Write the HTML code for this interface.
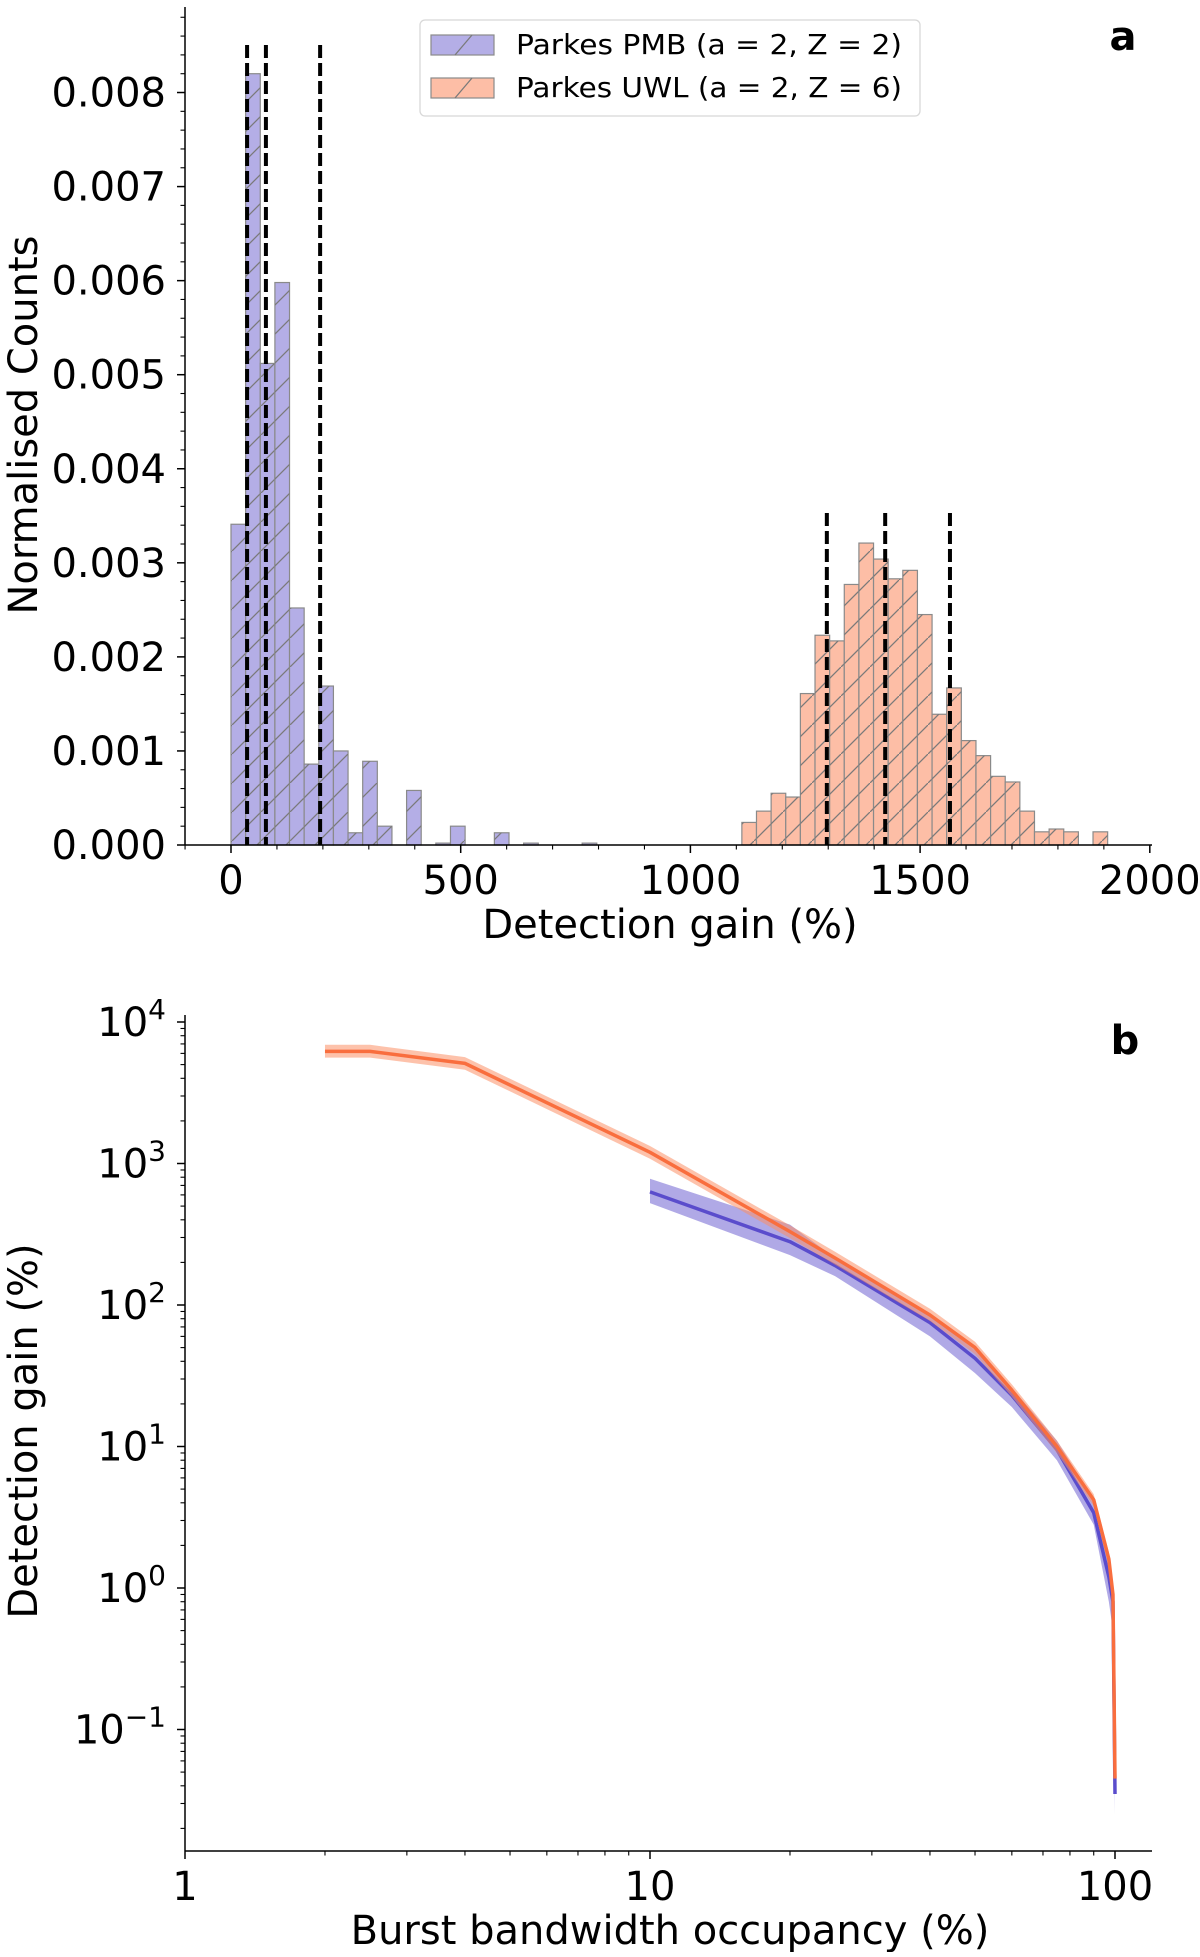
<!DOCTYPE html>
<html><head><meta charset="utf-8"><style>
html,body{margin:0;padding:0;background:#fff;}
svg text{font-family:"DejaVu Sans","Liberation Sans",sans-serif;fill:#000;}
</style></head><body>
<svg id="fig" width="1200" height="1952" viewBox="0 0 1200 1952" xmlns="http://www.w3.org/2000/svg">
<defs>
<pattern id="hatch" patternUnits="userSpaceOnUse" width="29" height="29">
<line x1="-2" y1="31" x2="31" y2="-2" stroke="#7a7a7a" stroke-width="1.3"/>
</pattern>
</defs>
<g id="topPanel"></g>
<g id="botPanel"></g>
</svg>
<script>
// ---- Panel a data ----
const binWidth = 31.85;
const pmbStart = 0;
const pmbCounts = [0.00341,0.0082,0.00512,0.00598,0.00252,0.00086,0.00169,0.00100,0.00013,0.00089,0.0002,0,0.00058,0,0.00002,0.0002,0,0,0.00013,0,0.00002,0,0,0,0.00002];
const uwlStart = 1112;
const uwlCounts = [0.00024,0.00036,0.00055,0.00051,0.00161,0.00223,0.00217,0.00277,0.00321,0.00304,0.00283,0.00292,0.00245,0.00139,0.00167,0.00111,0.00095,0.00073,0.00067,0.00036,0.00014,0.00017,0.00014,0,0.00014];
const pmbDashed = [35, 76, 194];
const uwlDashed = [1297, 1424, 1565];
const topXTicks = [0, 500, 1000, 1500, 2000];
const topYTicks = [0, 0.001, 0.002, 0.003, 0.004, 0.005, 0.006, 0.007, 0.008];
const topYLabels = ["0.000","0.001","0.002","0.003","0.004","0.005","0.006","0.007","0.008"];
// ---- Panel b data ----
const uwlX = [2, 2.5, 4, 10, 20, 25, 40, 50, 60, 75, 90, 97, 99, 100];
const uwlY = [6200, 6200, 5100, 1200, 330, 215, 85, 50, 25, 10, 4.2, 1.6, 0.9, 0.045];
const uwlLo = [5600, 5600, 4600, 1080, 297, 193, 77, 45, 22.5, 9, 3.8, 1.4, 0.8, 0.04];
const uwlHi = [6900, 6900, 5650, 1330, 365, 238, 94, 55, 27.5, 11, 4.6, 1.8, 1.0, 0.05];
const pmbX = [10, 20, 25, 40, 50, 60, 75, 90, 97, 99, 100];
const pmbY = [630, 280, 190, 75, 42, 23, 9.5, 3.4, 1.2, 0.8, 0.035];
const pmbLo = [525, 225, 160, 60, 33, 19, 8, 2.8, 0.8, 0.5, 0.025];
const pmbHi = [780, 370, 215, 85, 48, 26, 11, 4.2, 1.6, 1.0, 0.045];
const botXTicks = [1, 10, 100];
const botXLabels = ["1", "10", "100"];
const botYExps = [4, 3, 2, 1, 0, -1];

const NS = "http://www.w3.org/2000/svg";
function mk(parent, tag, attrs, text) {
  const e = document.createElementNS(NS, tag);
  for (const k in attrs) e.setAttribute(k, attrs[k]);
  if (text !== undefined) e.textContent = text;
  parent.appendChild(e);
  return e;
}
const topG = document.getElementById('topPanel');
const botG = document.getElementById('botPanel');

const ax = v => 231 + v * 0.4594;
const ay = v => 845 - v * 94060;

function drawHist(counts, start, fill, name) {
  const g = mk(topG, 'g', {});
  
  
  counts.forEach((c, i) => {
    if (c <= 0) return;
    const x0 = ax(start + i * binWidth), x1 = ax(start + (i + 1) * binWidth);
    const y = ay(c);
    const r = mk(g, 'rect', {x: x0, y: y, width: x1 - x0, height: 845 - y, fill: fill, stroke: '#8a8a8a', 'stroke-width': 1.2});
    
    
    const h = mk(g, 'rect', {x: x0, y: y, width: x1 - x0, height: 845 - y, fill: 'url(#hatch)'});
    
    
  });
}
drawHist(pmbCounts, pmbStart, '#b4aee6', 'pmb-histogram');
drawHist(uwlCounts, uwlStart, '#fdbea6', 'uwl-histogram');

pmbDashed.forEach(v => {
  const l = mk(topG, 'line', {x1: ax(v), x2: ax(v), y1: 45, y2: 845, stroke: '#000', 'stroke-width': 4, 'stroke-dasharray': '13,5'});
  
  
});
uwlDashed.forEach(v => {
  const l = mk(topG, 'line', {x1: ax(v), x2: ax(v), y1: 513, y2: 845, stroke: '#000', 'stroke-width': 4, 'stroke-dasharray': '13,5'});
  
  
});

let e = mk(topG, 'line', {x1: 185, x2: 1152, y1: 845, y2: 845, stroke: '#000', 'stroke-width': 1.5});
 
e = mk(topG, 'line', {x1: 185, x2: 185, y1: 7, y2: 845, stroke: '#000', 'stroke-width': 1.5});
 
for (let v = -100; v <= 2000; v += 100) {
  const major = v % 500 === 0;
  mk(topG, 'line', {x1: ax(v), x2: ax(v), y1: 845, y2: 845 + (major ? 8 : 4.5), stroke: '#000', 'stroke-width': major ? 1.5 : 1.1});
}
topXTicks.forEach(v => {
  e = mk(topG, 'text', {x: ax(v), y: 894, 'font-size': 40, 'text-anchor': 'middle'}, String(v));
   
});
for (let i = 0; i <= 44; i++) {
  const v = i * 0.0002; const major = i % 5 === 0;
  mk(topG, 'line', {x1: 185 - (major ? 8 : 4.5), x2: 185, y1: ay(v), y2: ay(v), stroke: '#000', 'stroke-width': major ? 1.5 : 1.1});
}
topYTicks.forEach((v, i) => {
  e = mk(topG, 'text', {x: 166, y: ay(v) + 14, 'font-size': 40, 'text-anchor': 'end'}, topYLabels[i]);
   
});
e = mk(topG, 'text', {x: 670, y: 938, 'font-size': 40, 'text-anchor': 'middle'}, 'Detection gain (%)');
 
e = mk(topG, 'text', {x: 0, y: 0, 'font-size': 40, 'text-anchor': 'middle', transform: 'translate(37,425) rotate(-90)'}, 'Normalised Counts');
 
e = mk(topG, 'text', {x: 1123, y: 50, 'font-size': 40, 'font-weight': 'bold', 'text-anchor': 'middle'}, 'a');
 

const lg = mk(topG, 'g', {});
 
mk(lg, 'rect', {x: 420, y: 20, width: 500, height: 96, rx: 5, fill: '#fff', 'fill-opacity': 0.85, stroke: '#d8d8d8', 'stroke-width': 1.3});
[['#b4aee6', 'Parkes PMB (a = 2, Z = 2)', 35], ['#fdbea6', 'Parkes UWL (a = 2, Z = 6)', 78]].forEach(d => {
  e = mk(lg, 'rect', {x: 431, y: d[2], width: 63, height: 20, fill: d[0], stroke: '#8a8a8a', 'stroke-width': 1.2});
   
  mk(lg, 'line', {x1: 455, y1: d[2] + 20, x2: 472, y2: d[2], stroke: '#7a7a7a', 'stroke-width': 1.3});
  e = mk(lg, 'text', {x: 516, y: d[2] + 19, 'font-size': 28, textLength: 386, lengthAdjust: 'spacingAndGlyphs'}, d[1]);
   
});

// ---- Panel b ----
const bx = v => 185 + Math.log10(v) * 465;
const by = v => 1022 + (4 - Math.log10(v)) * 141.5;

function band(xs, lo, hi, fill, op, name) {
  let d = 'M' + xs.map((x, i) => bx(x) + ',' + by(hi[i])).join(' L');
  d += ' L' + xs.slice().reverse().map((x, j) => { const i = xs.length - 1 - j; return bx(x) + ',' + by(lo[i]); }).join(' L') + ' Z';
  const p = mk(botG, 'path', {d: d, fill: fill, 'fill-opacity': op});
   
}
function line(xs, ys, color, w, name) {
  const p = mk(botG, 'polyline', {points: xs.map((x, i) => bx(x) + ',' + by(ys[i])).join(' '), fill: 'none', stroke: color, 'stroke-width': w, 'stroke-linejoin': 'round'});
   
}
band(pmbX, pmbLo, pmbHi, '#8f85dc', 0.7, 'pmb-band');
line(pmbX, pmbY, '#5a4ccc', 3.5, 'pmb-line');
band(uwlX, uwlLo, uwlHi, '#fb8f66', 0.55, 'uwl-band');
line(uwlX, uwlY, '#f96e3e', 3.5, 'uwl-line');

e = mk(botG, 'line', {x1: 185, x2: 1152, y1: 1851, y2: 1851, stroke: '#000', 'stroke-width': 1.5});
 
e = mk(botG, 'line', {x1: 185, x2: 185, y1: 1015, y2: 1851, stroke: '#000', 'stroke-width': 1.5});
 
for (let dec = 0; dec <= 2; dec++) for (let m = 1; m <= 9; m++) {
  const v = m * Math.pow(10, dec); if (bx(v) > 1152) continue;
  mk(botG, 'line', {x1: bx(v), x2: bx(v), y1: 1851, y2: 1851 + (m === 1 ? 8 : 4.5), stroke: '#000', 'stroke-width': m === 1 ? 1.5 : 1.1});
}
botXTicks.forEach((v, i) => {
  e = mk(botG, 'text', {x: bx(v), y: 1900, 'font-size': 40, 'text-anchor': 'middle'}, botXLabels[i]);
   
});
for (let dec = -2; dec <= 3; dec++) for (let m = 1; m <= 9; m++) {
  const v = m * Math.pow(10, dec); const y = by(v);
  if (y > 1851 || y < 1015) continue;
  mk(botG, 'line', {x1: 185 - (m === 1 ? 8 : 4.5), x2: 185, y1: y, y2: y, stroke: '#000', 'stroke-width': m === 1 ? 1.5 : 1.1});
}
mk(botG, 'line', {x1: 177, x2: 185, y1: by(10000), y2: by(10000), stroke: '#000', 'stroke-width': 1.5});
botYExps.forEach(p => {
  const t = mk(botG, 'text', {x: 166, y: by(Math.pow(10, p)) + 14, 'font-size': 40, 'text-anchor': 'end'});
   
  mk(t, 'tspan', {}, '10');
  mk(t, 'tspan', {dy: -17, 'font-size': 28}, p < 0 ? '\u2212' + (-p) : String(p));
});
e = mk(botG, 'text', {x: 670, y: 1944, 'font-size': 40, 'text-anchor': 'middle'}, 'Burst bandwidth occupancy (%)');
 
e = mk(botG, 'text', {x: 0, y: 0, 'font-size': 40, 'text-anchor': 'middle', transform: 'translate(37,1431) rotate(-90)'}, 'Detection gain (%)');
 
e = mk(botG, 'text', {x: 1125, y: 1054, 'font-size': 40, 'font-weight': 'bold', 'text-anchor': 'middle'}, 'b');
 
</script>
</body></html>
